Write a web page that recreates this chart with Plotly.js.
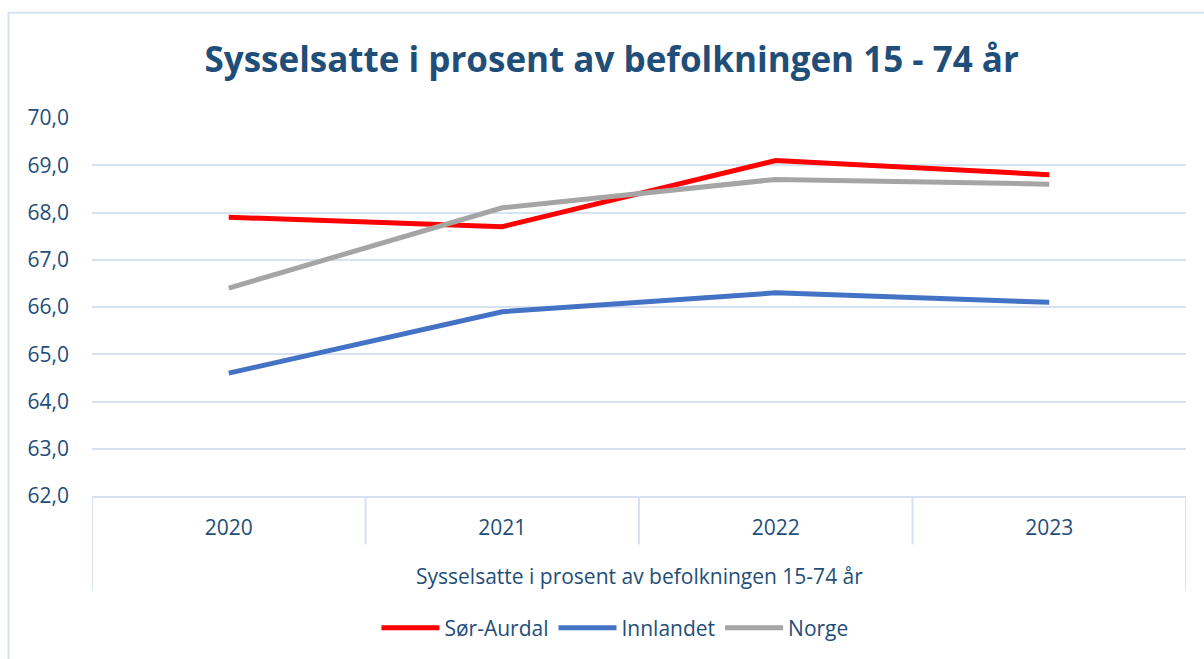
<!DOCTYPE html>
<html>
<head>
<meta charset="utf-8">
<script src="https://cdn.plot.ly/plotly-3.0.1.min.js"></script>
<style>html,body{margin:0;padding:0;background:#fff;}#chart{width:1204px;height:659px;}</style>
</head>
<body>
<div id="chart"></div>
<script>
const years = ["2020", "2021", "2022", "2023"];
const sorAurdal = [67.9, 67.7, 69.1, 68.8];
const innlandet = [64.6, 65.9, 66.3, 66.1];
const norge = [66.4, 68.1, 68.7, 68.6];
const yTicks = [62, 63, 64, 65, 66, 67, 68, 69, 70];
const yTickText = ["62,0", "63,0", "64,0", "65,0", "66,0", "67,0", "68,0", "69,0", "70,0"];
const groupLabel = "Sysselsatte i prosent av befolkningen 15-74 år";

const textColor = "#1F4E79";
const gridColor = "#D6E2F3";
const font = "Open Sans, Noto Sans, sans-serif";

function trace(name, y, color) {
  return {x: years, y: y, name: name, type: "scatter", mode: "lines",
    line: {color: color, width: 5}};
}
const data = [
  trace("Sør-Aurdal", sorAurdal, "#FF0000"),
  trace("Innlandet", innlandet, "#4472C4"),
  trace("Norge", norge, "#A5A5A5")
];

const shapes = [];
// category dividers
[-0.5, 0.5, 1.5, 2.5, 3.5].forEach((v, i) => {
  const outer = (i === 0 || i === 4);
  shapes.push({type: "line", xref: "x", yref: "paper", x0: v, x1: v,
    y0: 0, y1: outer ? -0.25 : -0.128, line: {color: gridColor, width: 2}});
});
// outer frame
shapes.push({type: "rect", xref: "paper", yref: "paper", x0: -0.0763, x1: 1.03, y0: -0.5, y1: 1.2784,
  line: {color: gridColor, width: 2}, layer: "below"});

const layout = {
  width: 1204, height: 659,
  margin: {l: 92, r: 18, t: 118, b: 162},
  paper_bgcolor: "#fff", plot_bgcolor: "#fff",
  font: {family: font, color: textColor, size: 21},
  title: {text: "<b>Sysselsatte i prosent av befolkningen 15 - 74 år</b>",
    font: {family: font, size: 35, color: textColor},
    x: 0.475, xanchor: "center", y: 0.909, yanchor: "middle", xref: "paper"},
  xaxis: {type: "category", range: [-0.5, 3.5], showgrid: false, zeroline: false,
    showline: true, linecolor: gridColor, linewidth: 2,
    ticks: "", ticklabelstandoff: 12, tickfont: {size: 21, color: textColor}},
  yaxis: {range: [62, 70], tickvals: yTicks, ticktext: yTickText,
    showgrid: true, gridcolor: gridColor, gridwidth: 2, zeroline: false, showline: false,
    ticks: "", ticklabelstandoff: 22, tickfont: {size: 21, color: textColor}},
  showlegend: true,
  legend: {orientation: "h", x: 0.478, xanchor: "center", y: -0.346, yanchor: "middle",
    itemwidth: 58, tracegroupgap: 0, font: {size: 21, color: textColor}},
  annotations: [{text: groupLabel, xref: "paper", yref: "paper", x: 0.5, y: -0.211,
    xanchor: "center", yanchor: "middle", showarrow: false,
    font: {size: 21, color: textColor}}],
  shapes: shapes
};

Plotly.newPlot("chart", data, layout, {displayModeBar: false, staticPlot: true});
</script>
</body>
</html>
